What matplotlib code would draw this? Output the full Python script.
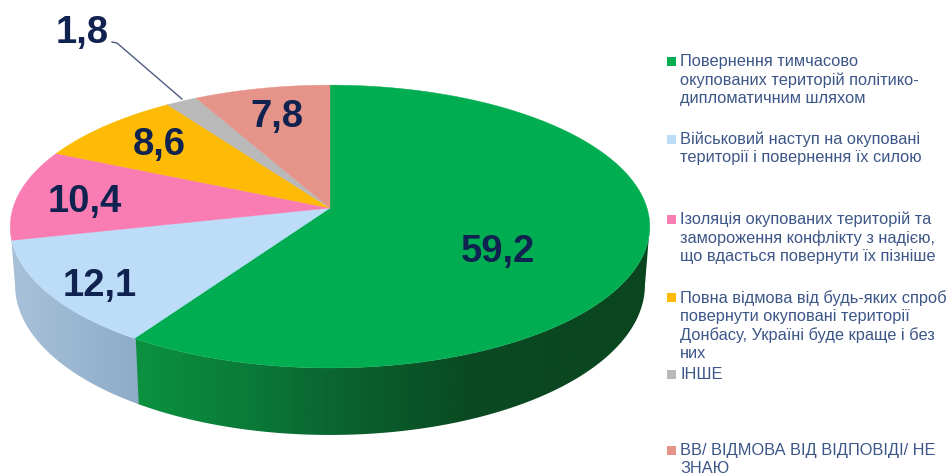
import numpy as np
import matplotlib
matplotlib.use('Agg')
import matplotlib.pyplot as plt
from matplotlib.colors import LinearSegmentedColormap
from matplotlib.patches import Polygon, Rectangle

values = [59.2, 12.1, 10.4, 8.6, 1.8, 7.8]
value_labels = ['59,2', '12,1', '10,4', '8,6', '1,8', '7,8']
colors = ['#00ad50', '#bcdcf7', '#f97db3', '#fdbb05', '#b9b9b9', '#e6948a']
legend_labels = [
    'Повернення тимчасово\nокупованих територій політико-\nдипломатичним шляхом',
    'Військовий наступ на окуповані\nтериторії і повернення їх силою',
    'Ізоляція окупованих територій та\nзамороження конфлікту з надією,\nщо вдасться повернути їх пізніше',
    'Повна відмова від будь-яких спроб\nповернути окуповані території\nДонбасу, Україні буде краще і без\nних',
    'ІНШЕ',
    'ВВ/ ВІДМОВА ВІД ВІДПОВІДІ/ НЕ\nЗНАЮ',
]

label_pos = [(498, 252), (100, 286), (85, 202), (159, 145), (82, 33), (277, 117)]
legend_y = [62, 140, 220, 298, 375, 451]

plt.rcParams['font.family'] = ['Liberation Sans', 'DejaVu Sans']

fig = plt.figure(figsize=(9.52, 4.77), dpi=100)
ax = fig.add_axes([0, 0, 1, 1])

# perspective pie: centre, radius and foreshortening in pixels
cx, cy, r, a, k = 330, 209, 317, 139, 0.131


def rim(theta):
    u, v = np.sin(theta), -np.cos(theta)
    d = 1 - k * v
    return cx + r * u / d, cy + a * v / d


def rim_low(theta):
    x, y = rim(theta)
    v = -np.cos(theta)
    return cx + (x - cx) * 0.985, y + 57 + 10 * v


def side(t0, t1, stops):
    th = np.linspace(t0, t1, 200)
    x1, y1 = rim(th)
    x2, y2 = rim_low(th)
    pts = np.column_stack([np.r_[x1, x2[::-1]], np.r_[y1, y2[::-1]]])
    cmap = LinearSegmentedColormap.from_list('s', stops)
    im = ax.imshow(np.linspace(0, 1, 256)[None, :], cmap=cmap, aspect='auto',
                   extent=(0, 660, 477, 0), zorder=1)
    im.set_clip_path(Polygon(pts, transform=ax.transData))


edges = np.r_[0, np.cumsum(values)] / sum(values) * 2 * np.pi

# side wall starts and stops where the rim is widest, so the outline stays vertical
side(np.radians(97.5), edges[1], [(0, '#0b9a44'), (0.21, '#0b9140'), (0.38, '#0a7a38'),
                                  (0.5, '#0a6630'), (0.71, '#0a4a22'), (1, '#0a4520')])
side(edges[1] - 0.005, np.radians(262.5), [(0, '#aac3da'), (0.2, '#8fadc9'), (1, '#8fadc9')])

for i, c in enumerate(colors):
    th = np.linspace(edges[i], edges[i + 1], 120)
    x, y = rim(th)
    ax.fill(np.r_[cx, x], np.r_[cy, y], color=c, lw=0.3, zorder=2)

ax.plot([112, 117, 182], [43, 44, 100], color='#4d5b80', lw=1, zorder=3)

for lab, (x, y) in zip(value_labels, label_pos):
    ax.text(x, y, lab, fontsize=27.5, fontweight='bold', color='#10224f',
            ha='center', va='center', zorder=4)

for lab, c, y in zip(legend_labels, colors, legend_y):
    ax.add_patch(Rectangle((667, y - 4.5), 9, 9, color=c, lw=0))
    ax.text(680, y - 8, lab, fontsize=11.8, color='#3d5688', ha='left', va='top',
            linespacing=1.25)

ax.set_xlim(0, 952)
ax.set_ylim(477, 0)
ax.axis('off')
fig.savefig('out.png', dpi=100)
